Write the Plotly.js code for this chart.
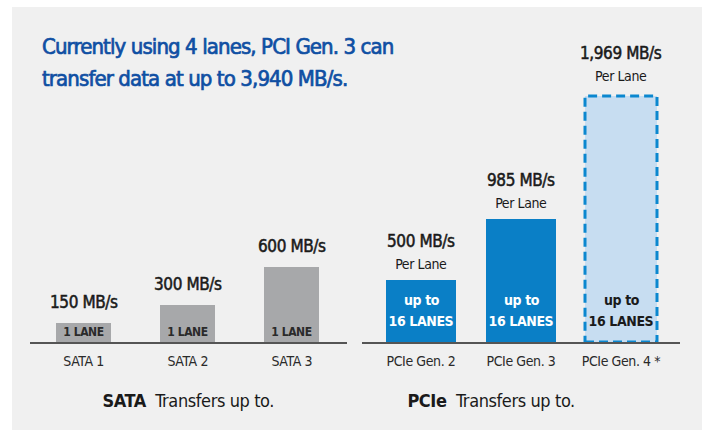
<!DOCTYPE html>
<html>
<head>
<meta charset="utf-8">
<script src="https://cdn.plot.ly/plotly-3.0.1.min.js"></script>
<style>
html,body{margin:0;padding:0;background:#fff;}
#chart{width:702px;height:430px;}
#chart svg text{letter-spacing:-0.4px;}
</style>
</head>
<body>
<div id="chart"></div>
<script>
// ---- data ----
const sataCategories = ["SATA 1", "SATA 2", "SATA 3"];
const sataValues = [150, 300, 600];
const sataValueLabels = ["150 MB/s", "300 MB/s", "600 MB/s"];
const sataLaneLabels = ["1 LANE", "1 LANE", "1 LANE"];

const pcieCategories = ["PCIe Gen. 2", "PCIe Gen. 3", "PCIe Gen. 4 *"];
const pcieValues = [500, 985, 1969];
const pcieValueLabels = ["500 MB/s", "985 MB/s", "1,969 MB/s"];
const pcieSubLabel = "Per Lane";
const pcieLaneTop = "up to";
const pcieLaneBottom = "16 LANES";
const pcieFuture = [false, false, true];

const titleLines = ["Currently using 4 lanes, PCI Gen. 3 can", "transfer data at up to 3,940 MB/s."];
const sataCaption = "<b>SATA</b>  Transfers up to.";
const pcieCaption = "<b>PCIe</b>  Transfers up to.";

// ---- style ----
const FONT = '"DejaVu Sans Condensed", "DejaVu Sans", sans-serif';
const W = 702, H = 430;
const grey = "#a7a8aa", blue = "#0a7fc6", lightBlue = "#c7ddf1", dashBlue = "#0b87cf";
const titleBlue = "#0f4fa3";
const sataWidth = 0.53, pcieWidth = 0.7, futureWidth = 0.72;

const pcieWidths = pcieFuture.map(v => v ? futureWidth : pcieWidth);
const f = (size, color) => ({family: FONT, size: size, color: color});
const heavy = (txt, color, w, ls) =>
  "<span style='stroke:" + color + ";stroke-width:" + w + "px;letter-spacing:" + ls + "px'>" + txt + "</span>";

const traces = [
  {
    type: "bar", x: sataCategories, y: sataValues, xaxis: "x", yaxis: "y",
    width: sataCategories.map(() => sataWidth),
    marker: {color: grey, line: {width: 0}}, hoverinfo: "skip", showlegend: false
  },
  {
    type: "bar", x: pcieCategories, y: pcieValues, xaxis: "x2", yaxis: "y",
    width: pcieWidths,
    marker: {color: pcieFuture.map(v => v ? lightBlue : blue), line: {width: 0}},
    hoverinfo: "skip", showlegend: false
  }
];

const annotations = [];
sataCategories.forEach((c, i) => {
  annotations.push({
    xref: "x", yref: "y", x: c, y: sataValues[i], yanchor: "bottom", yshift: 9,
    text: heavy(sataValueLabels[i], "#1a1a1a", 0.5, -0.4), showarrow: false, font: f(17, "#1a1a1a")
  });
  annotations.push({
    xref: "x", yref: "y", x: c, y: 0, yanchor: "bottom", yshift: 1,
    text: "<b>" + sataLaneLabels[i] + "</b>", showarrow: false, font: f(12, "#2a2a2a")
  });
});
pcieCategories.forEach((c, i) => {
  const tc = pcieFuture[i] ? "#1a1a1a" : "#ffffff";
  annotations.push({
    xref: "x2", yref: "y", x: c, y: pcieValues[i], yanchor: "bottom", yshift: pcieFuture[i] ? 10 : 6,
    text: heavy(pcieValueLabels[i], "#1a1a1a", 0.5, -0.4) + "<br><span style='font-size:14px'>" + pcieSubLabel + "</span>",
    showarrow: false, font: f(17, "#1a1a1a")
  });
  annotations.push({
    xref: "x2", yref: "y", x: c, y: 0, yanchor: "bottom", yshift: 11,
    text: "<b>" + pcieLaneBottom + "</b>", showarrow: false, font: f(14, tc)
  });
  annotations.push({
    xref: "x2", yref: "y", x: c, y: 0, yanchor: "bottom", yshift: 32,
    text: "<b>" + pcieLaneTop + "</b>", showarrow: false, font: f(14, tc)
  });
});
titleLines.forEach((t, k) => {
  annotations.push({
    xref: "paper", yref: "paper", x: 40 / W, y: 1 - (32 + 32 * k) / H, xanchor: "left", yanchor: "top",
    align: "left", text: heavy(t, titleBlue, 0.7, -0.9), showarrow: false, font: f(22, titleBlue)
  });
});
annotations.push({
  xref: "paper", yref: "paper", x: 188 / W, y: 1 - 400 / H, xanchor: "center", yanchor: "middle",
  text: sataCaption, showarrow: false, font: f(18, "#1a1a1a")
});
annotations.push({
  xref: "paper", yref: "paper", x: 491 / W, y: 1 - 400 / H, xanchor: "center", yanchor: "middle",
  text: pcieCaption, showarrow: false, font: f(18, "#1a1a1a")
});

const shapes = [
  {type: "rect", xref: "paper", yref: "paper", x0: 12 / W, x1: 1, y0: 0, y1: 1 - 7 / H,
   fillcolor: "#f0f0f0", line: {width: 0}, layer: "below"}
];
pcieCategories.forEach((c, i) => {
  if (pcieFuture[i]) {
    shapes.push({
      type: "rect", xref: "x2", yref: "y",
      x0: i - pcieWidths[i] / 2, x1: i + pcieWidths[i] / 2, y0: 0, y1: pcieValues[i],
      line: {color: dashBlue, width: 3, dash: "9px,5px"}, fillcolor: "rgba(0,0,0,0)", layer: "above"
    });
  }
});

const axisCommon = {
  type: "category", showline: true, linecolor: "#555", linewidth: 2, ticks: "",
  showgrid: false, zeroline: false, fixedrange: true, ticklabelstandoff: 5,
  tickfont: f(14, "#2a2a2a"), anchor: "y"
};

const layout = {
  width: W, height: H,
  margin: {l: 0, r: 0, t: 0, b: 0, pad: 0},
  paper_bgcolor: "#ffffff", plot_bgcolor: "rgba(0,0,0,0)",
  showlegend: false, bargap: 0,
  xaxis: Object.assign({}, axisCommon, {domain: [30 / W, 347 / W], range: [-0.515, 2.53]}),
  xaxis2: Object.assign({}, axisCommon, {domain: [362 / W, 680 / W], range: [-0.59, 2.59]}),
  yaxis: {domain: [(H - 342) / H, (H - 92) / H], range: [0, 2000], visible: false, fixedrange: true},
  annotations: annotations,
  shapes: shapes
};

Plotly.newPlot("chart", traces, layout, {displayModeBar: false, staticPlot: true});
</script>
</body>
</html>
